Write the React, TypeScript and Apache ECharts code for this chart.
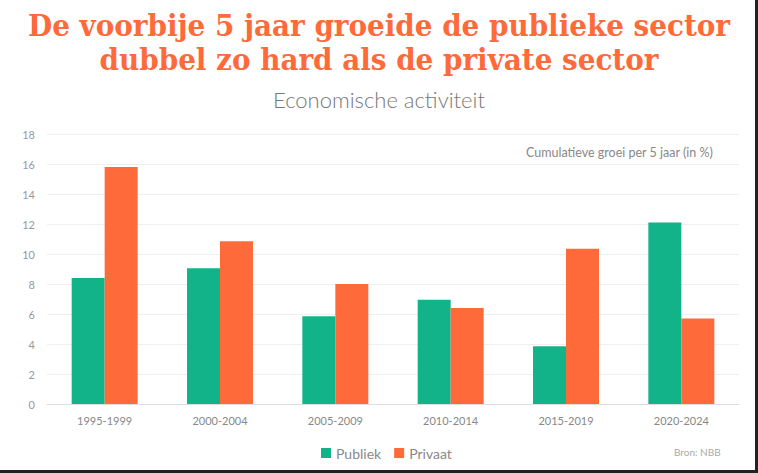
import React, { useEffect, useRef } from "react";
import * as echarts from "echarts";

const categories = ["1995-1999", "2000-2004", "2005-2009", "2010-2014", "2015-2019", "2020-2024"];
const publiek = [8.4, 9.05, 5.85, 6.95, 3.85, 12.1];
const privaat = [15.8, 10.85, 8.0, 6.4, 10.35, 5.7];
const seriesNames = ["Publiek", "Privaat"];
const titleLines = ["De voorbije 5 jaar groeide de publieke sector", "dubbel zo hard als de private sector"];
const subtitle = "Economische activiteit";
const note = "Cumulatieve groei per 5 jaar (in %)";
const source = "Bron: NBB";

const GREEN = "#13B38A";
const ORANGE = "#FF6A3A";

export default function App() {
  const ref = useRef<HTMLDivElement>(null);
  useEffect(() => {
    if (!ref.current) return;
    const chart = echarts.init(ref.current, undefined, { renderer: "svg" });
    const titleFont = "bold 29px 'DejaVu Serif Condensed', 'DejaVu Serif', serif";
    chart.setOption({
      animation: false,
      backgroundColor: "#ffffff",
      textStyle: { fontFamily: "Lato" },
      grid: { left: 47, right: 19, top: 134, bottom: 69 },
      legend: {
        data: seriesNames,
        left: 316,
        top: 441,
        itemWidth: 10,
        itemHeight: 10,
        itemGap: 13,
        icon: "rect",
        textStyle: { color: "#888", fontSize: 14, fontFamily: "Lato" },
      },
      graphic: [
        {
          type: "text",
          x: 379,
          y: 11,
          scaleX: 1.067,
          style: { text: titleLines[0], fill: ORANGE, font: titleFont, textAlign: "center", textVerticalAlign: "top" },
        },
        {
          type: "text",
          x: 379,
          y: 45,
          scaleX: 1.067,
          style: { text: titleLines[1], fill: ORANGE, font: titleFont, textAlign: "center", textVerticalAlign: "top" },
        },
        {
          type: "text",
          left: "center",
          top: 88,
          style: { text: subtitle, fill: "#777", font: "300 22px Lato" },
        },
        {
          type: "text",
          left: 526,
          top: 146,
          style: { text: note, fill: "#888", font: "12.5px Lato" },
        },
        {
          type: "text",
          left: 674,
          top: 447,
          style: { text: source, fill: "#aaa", font: "10px Lato" },
        },
        { type: "rect", right: 0, top: 0, shape: { width: 3, height: 473 }, style: { fill: "#222" } },
        { type: "rect", left: 0, bottom: 0, shape: { width: 758, height: 3 }, style: { fill: "#222" } },
      ],
      xAxis: {
        type: "category",
        data: categories,
        axisLine: { lineStyle: { color: "#ddd" } },
        axisTick: { length: 5, lineStyle: { color: "#ccc" } },
        axisLabel: { color: "#888", fontSize: 11, margin: 11 },
      },
      yAxis: {
        type: "value",
        min: 0,
        max: 18,
        interval: 2,
        axisLine: { show: false },
        axisTick: { show: false },
        axisLabel: { color: "#999", fontSize: 11, margin: 12 },
        splitLine: { lineStyle: { color: "#efefef" } },
      },
      series: [
        {
          name: seriesNames[0],
          type: "bar",
          data: publiek,
          barWidth: 33,
          barGap: "0%",
          itemStyle: { color: GREEN },
        },
        {
          name: seriesNames[1],
          type: "bar",
          data: privaat,
          barWidth: 33,
          barGap: "0%",
          itemStyle: { color: ORANGE },
        },
      ],
    });
    return () => chart.dispose();
  }, []);
  return (
    <div
      ref={ref}
      style={{ position: "fixed", left: 0, top: 0, width: 758, height: 473 }}
    />
  );
}
